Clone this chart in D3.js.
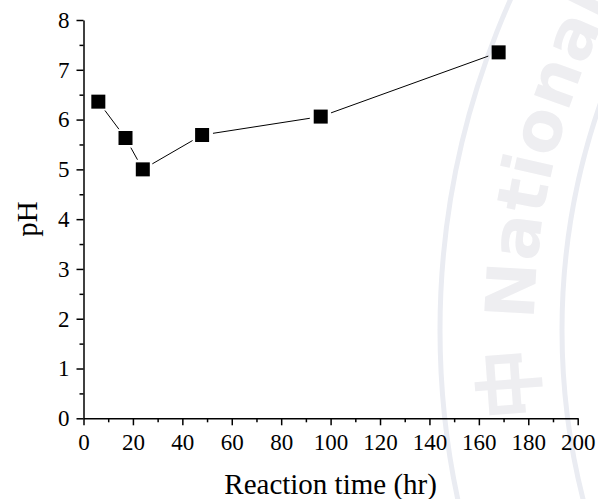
<!DOCTYPE html>
<html>
<head>
<meta charset="utf-8">
<script src="https://cdn.jsdelivr.net/npm/d3@7"></script>
<style>
  html, body { margin: 0; padding: 0; background: #fff; }
  svg { display: block; }
</style>
</head>
<body>
<svg id="chart"></svg>
<script>
// Data
const times = [6, 17, 24, 48, 96, 168];
const phValues = [6.36, 5.63, 5.0, 5.69, 6.06, 7.35];
const xTicks = [0, 20, 40, 60, 80, 100, 120, 140, 160, 180, 200];
const yTicks = [0, 1, 2, 3, 4, 5, 6, 7, 8];
const xTitle = "Reaction time (hr)";
const yTitle = "pH";
const watermarkCjk = "中";
const watermarkLatin = "National";

const width = 598;
const height = 499;
const margin = { top: 20, right: 20.3, bottom: 80.7, left: 83.5 };
const serif = "Liberation Serif, Times New Roman, serif";

const svg = d3.select("#chart")
  .attr("width", width)
  .attr("height", height);

// faint watermark behind the plot
const wmCx = 1250, wmCy = 330;
const wm = svg.append("g").attr("class", "watermark");

[810, 688].forEach((r) => {
  wm.append("circle")
    .attr("cx", wmCx)
    .attr("cy", wmCy)
    .attr("r", r)
    .attr("fill", "none")
    .attr("stroke", "#eaecf2")
    .attr("stroke-width", 5);
});

const wmPath = d3.path();
const r0 = 716;
const a0 = Math.PI - 0.123;
wmPath.moveTo(wmCx + r0 * Math.cos(a0), wmCy + r0 * Math.sin(a0));
wmPath.arc(wmCx, wmCy, r0, a0, Math.PI + 0.9, false);

wm.append("defs").append("path")
  .attr("id", "wm-path")
  .attr("d", wmPath.toString());

const wmText = wm.append("text")
  .attr("fill", "#eeeef1")
  .append("textPath")
  .attr("href", "#wm-path");

wmText.append("tspan")
  .attr("font-family", "Noto Sans CJK TC, sans-serif")
  .attr("font-weight", "bold")
  .attr("font-size", 72)
  .text(watermarkCjk);

wmText.append("tspan")
  .attr("dx", 26)
  .attr("font-family", "DejaVu Sans, sans-serif")
  .attr("font-weight", "bold")
  .attr("font-size", 68)
  .attr("letter-spacing", 1)
  .text(watermarkLatin);

// Scales
const x = d3.scaleLinear()
  .domain([0, 200])
  .range([margin.left, width - margin.right]);

const y = d3.scaleLinear()
  .domain([0, 8])
  .range([height - margin.bottom, margin.top]);

const plot = svg.append("g");

// Minor ticks
const xMinor = d3.range(10, 200, 20);
const yMinor = d3.range(0.5, 8, 1);

plot.append("g")
  .attr("transform", `translate(0,${y(0)})`)
  .call(d3.axisBottom(x).tickValues(xMinor).tickSize(4).tickFormat(""))
  .call((g) => g.select(".domain").remove())
  .call((g) => g.selectAll("line").attr("stroke-width", 1.5));

plot.append("g")
  .attr("transform", `translate(${x(0)},0)`)
  .call(d3.axisLeft(y).tickValues(yMinor).tickSize(4).tickFormat(""))
  .call((g) => g.select(".domain").remove())
  .call((g) => g.selectAll("line").attr("stroke-width", 1.5));

// Major axes
const xAxis = plot.append("g")
  .attr("transform", `translate(0,${y(0)})`)
  .call(d3.axisBottom(x).tickValues(xTicks).tickSize(7).tickSizeOuter(0).tickPadding(8));

const yAxis = plot.append("g")
  .attr("transform", `translate(${x(0)},0)`)
  .call(d3.axisLeft(y).tickValues(yTicks).tickSize(7).tickSizeOuter(0).tickPadding(7));

[xAxis, yAxis].forEach((g) => {
  g.attr("font-family", serif).attr("font-size", 23);
  g.select(".domain").attr("stroke-width", 1.5);
  g.selectAll(".tick line").attr("stroke-width", 1.5);
  g.selectAll(".tick text")
    .attr("fill", "#000")
    .attr("font-family", serif)
    .attr("font-size", 23);
});

// Axis titles
svg.append("text")
  .attr("x", (x(0) + x(200)) / 2)
  .attr("y", 494.3)
  .attr("text-anchor", "middle")
  .attr("font-family", serif)
  .attr("font-size", 29)
  .text(xTitle);

svg.append("text")
  .attr("transform", `translate(36.5,${(y(0) + y(8)) / 2}) rotate(-90)`)
  .attr("text-anchor", "middle")
  .attr("font-family", serif)
  .attr("font-size", 29)
  .text(yTitle);

// Connecting line, with a small gap around each symbol
const gap = 11;
const points = times.map((t, i) => [x(t), y(phValues[i])]);

for (let i = 0; i < points.length - 1; i++) {
  const [x1, y1] = points[i];
  const [x2, y2] = points[i + 1];
  const len = Math.hypot(x2 - x1, y2 - y1);
  const ux = (x2 - x1) / len;
  const uy = (y2 - y1) / len;
  plot.append("line")
    .attr("x1", x1 + ux * gap)
    .attr("y1", y1 + uy * gap)
    .attr("x2", x2 - ux * gap)
    .attr("y2", y2 - uy * gap)
    .attr("stroke", "#000")
    .attr("stroke-width", 1);
}

// Square symbols
const size = 14;
plot.selectAll("rect.marker")
  .data(times)
  .enter()
  .append("rect")
  .attr("class", "marker")
  .attr("x", (d) => x(d) - size / 2)
  .attr("y", (d, i) => y(phValues[i]) - size / 2)
  .attr("width", size)
  .attr("height", size)
  .attr("fill", "#000");
</script>
</body>
</html>
